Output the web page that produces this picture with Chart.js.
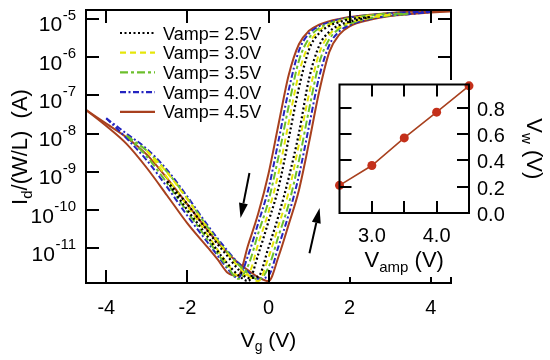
<!DOCTYPE html>
<html>
<head>
<meta charset="utf-8">
<script src="https://cdn.jsdelivr.net/npm/chart.js@4.4.1/dist/chart.umd.min.js"></script>
<style>
  html, body { margin: 0; padding: 0; background: #fff; }
  #wrap { position: relative; width: 550px; height: 360px; }
  #main { position: absolute; left: 0; top: 0; }
  #inset { position: absolute; left: 335px; top: 80px; background: #fff; }
</style>
</head>
<body>
<div id="wrap">
  <canvas id="main" width="550" height="360"></canvas>
  <canvas id="inset" width="215" height="197"></canvas>
</div>
<script>
// Gate voltage grid (V) shared by all sweeps
const vg = [-4.5, -4, -3.5, -3, -2.5, -2, -1.5, -1.25, -1, -0.75, -0.5, -0.25, 0,
            0.25, 0.5, 0.75, 1, 1.25, 1.5, 1.75, 2, 2.5, 3, 3.5, 4, 4.5];

// log10 of Id/(W/L) in A. null = outside the sweep range
const N = null;
const up25   = [N, N, N, N, -9.25, -9.85, -10.55, -10.9, -11.22, -11.55, -11.78, -11.74, -10.98, -10.14, -9.15, -7.99, -6.56, -5.7, -5.33, -5.16, -5.07, -4.95, N, N, N, N];
const down25 = [N, N, N, N, -9.25, -10.0, -10.7, -11.08, -11.42, -11.7, -11.86, -11.15, -10.3, -9.4, -8.12, -6.8, -5.8, -5.37, -5.18, -5.08, -5.01, -4.95, N, N, N, N];
const up30   = [N, N, N, -8.45, -9.02, -9.72, -10.48, -10.83, -11.16, -11.48, -11.72, -11.86, -11.24, -10.4, -9.52, -8.28, -6.96, -5.9, -5.41, -5.2, -5.09, -4.97, -4.89, N, N, N];
const down30 = [N, N, N, -8.45, -9.15, -9.9, -10.65, -11.05, -11.42, -11.72, -11.67, -10.87, -10.05, -9.02, -7.7, -6.42, -5.65, -5.3, -5.15, -5.06, -5.0, -4.91, -4.89, N, N, N];
const up35   = [N, N, -8.05, -8.45, -9.0, -9.7, -10.45, -10.8, -11.12, -11.42, -11.66, -11.82, -11.5, -10.67, -9.84, -8.71, -7.37, -6.15, -5.53, -5.25, -5.12, -4.98, -4.91, -4.86, N, N];
const down35 = [N, N, -8.05, -8.6, -9.3, -10.05, -10.78, -11.15, -11.5, -11.8, -11.45, -10.6, -9.76, -8.59, -7.27, -6.09, -5.5, -5.24, -5.12, -5.03, -4.98, -4.9, -4.86, -4.86, N, N];
const up40   = [N, -7.6, -8.0, -8.4, -8.95, -9.65, -10.4, -10.75, -11.08, -11.38, -11.62, -11.8, -11.72, -10.94, -10.11, -9.1, -7.8, -6.51, -5.68, -5.32, -5.16, -5.0, -4.91, -4.87, -4.82, N];
const down40 = [N, -7.6, -8.12, -8.7, -9.4, -10.15, -10.85, -11.2, -11.55, -11.78, -11.18, -10.33, -9.44, -8.17, -6.85, -5.83, -5.38, -5.19, -5.08, -5.01, -4.96, -4.9, -4.85, -4.82, -4.82, N];
const up45   = [-7.38, -7.74, -8.1, -8.55, -9.17, -9.85, -10.53, -10.85, -11.13, -11.38, -11.58, -11.76, -11.86, -11.21, -10.37, -9.48, -8.23, -6.9, -5.86, -5.4, -5.19, -5.02, -4.92, -4.87, -4.83, -4.8];
const down45 = [-7.38, -7.8, -8.27, -8.9, -9.62, -10.35, -10.98, -11.3, -11.65, -11.72, -10.91, -10.08, -9.05, -7.74, -6.46, -5.66, -5.31, -5.15, -5.06, -5.0, -4.95, -4.89, -4.84, -4.81, -4.79, -4.8];

const seriesNames = ['Vamp= 2.5V', 'Vamp= 3.0V', 'Vamp= 3.5V', 'Vamp= 4.0V', 'Vamp= 4.5V'];
const upSweeps = [up25, up30, up35, up40, up45];
const downSweeps = [down25, down30, down35, down40, down45];

// axis ticks
const xTicks = [-4, -2, 0, 2, 4];
const yTickExp = [-5, -6, -7, -8, -9, -10, -11];

// inset: memory window vs sweep amplitude
const vamp = [2.5, 3.0, 3.5, 4.0, 4.5];
const vw = [0.21, 0.36, 0.57, 0.765, 0.965];
const insetXTicks = [3.0, 3.5, 4.0];
const insetXLabels = [3.0, 4.0];
const insetYTicks = [0.0, 0.2, 0.4, 0.6, 0.8];

// sweep direction arrows, [Vg, log10 Id]
const arrows = [
  { from: [-0.47, -9.03], to: [-0.69, -10.21] },
  { from: [1.01, -11.13], to: [1.26, -9.95] }
];

// styles
const colors = ['#000000', '#e6e60a', '#6cbf2c', '#2424c0', '#a8401e'];
const dashes = [[2, 2.5], [6, 4], [8, 3, 3, 3], [6, 2.5, 2, 2.5], []];
const FONT = '"Liberation Sans", Arial, Helvetica, sans-serif';
const TICK = 13;

function pts(arr) {
  const out = [];
  vg.forEach((v, i) => { if (arr[i] !== null) out.push({ x: v, y: Math.pow(10, arr[i]) }); });
  return out;
}

function drawParts(ctx, parts, x, y, align) {
  let w = 0;
  parts.forEach(p => { ctx.font = p.size + 'px ' + FONT; p.w = ctx.measureText(p.t).width; w += p.w; });
  let cx = align === 'center' ? x - w / 2 : (align === 'right' ? x - w : x);
  ctx.textAlign = 'left';
  ctx.textBaseline = 'alphabetic';
  parts.forEach(p => {
    ctx.font = p.size + 'px ' + FONT;
    ctx.fillText(p.t, cx, y + (p.dy || 0));
    cx += p.w;
  });
}

function arrow(ctx, x1, y1, x2, y2) {
  const ang = Math.atan2(y2 - y1, x2 - x1);
  const L = 15, H = 4.5;
  const bx = x2 - L * Math.cos(ang), by = y2 - L * Math.sin(ang);
  ctx.beginPath();
  ctx.moveTo(x1, y1);
  ctx.lineTo(bx, by);
  ctx.stroke();
  ctx.beginPath();
  ctx.moveTo(x2, y2);
  ctx.lineTo(bx + H * Math.sin(ang), by - H * Math.cos(ang));
  ctx.lineTo(bx - H * Math.sin(ang), by + H * Math.cos(ang));
  ctx.closePath();
  ctx.fill();
}

const mainAxes = {
  id: 'mainAxes',
  afterDatasetsDraw(chart) {
    const { ctx, chartArea: a } = chart;
    const x = chart.scales.x, y = chart.scales.y;
    ctx.save();
    ctx.strokeStyle = '#000';
    ctx.fillStyle = '#000';
    ctx.lineWidth = 2;
    ctx.setLineDash([]);
    ctx.strokeRect(a.left, a.top, a.right - a.left, a.bottom - a.top);

    ctx.beginPath();
    xTicks.forEach(v => {
      const px = Math.round(x.getPixelForValue(v));
      ctx.moveTo(px, a.bottom); ctx.lineTo(px, a.bottom - TICK);
      ctx.moveTo(px, a.top); ctx.lineTo(px, a.top + TICK);
    });
    yTickExp.forEach(e => {
      const py = Math.round(y.getPixelForValue(Math.pow(10, e)));
      ctx.moveTo(a.left, py); ctx.lineTo(a.left + TICK, py);
      ctx.moveTo(a.right, py); ctx.lineTo(a.right - TICK, py);
    });
    ctx.stroke();

    // tick labels
    ctx.font = '20px ' + FONT;
    ctx.textAlign = 'center';
    ctx.textBaseline = 'alphabetic';
    xTicks.forEach(v => ctx.fillText(String(v), x.getPixelForValue(v), a.bottom + 31));

    yTickExp.forEach(e => {
      const py = y.getPixelForValue(Math.pow(10, e));
      ctx.textAlign = 'right';
      ctx.font = '15px ' + FONT;
      const sup = String(e);
      const sw = ctx.measureText(sup).width;
      ctx.fillText(sup, a.left - 10, py + 1);
      ctx.font = '21px ' + FONT;
      ctx.fillText('10', a.left - 10 - sw - 0.5, py + 12.5);
    });

    // axis titles
    drawParts(ctx, [
      { t: 'V', size: 21 }, { t: 'g', size: 14, dy: 4 }, { t: ' (V)', size: 21 }
    ], (a.left + a.right) / 2, a.bottom + 64, 'center');

    ctx.save();
    ctx.translate(27, 147);
    ctx.rotate(-Math.PI / 2);
    drawParts(ctx, [
      { t: 'I', size: 22 }, { t: 'd', size: 15, dy: 5 }, { t: '/(W/L)  (A)', size: 22 }
    ], 0, 0, 'center');
    ctx.restore();

    // legend
    seriesNames.forEach((name, i) => {
      const ry = 33 + i * 19.7;
      ctx.strokeStyle = colors[i];
      ctx.lineWidth = 2.2;
      ctx.setLineDash(dashes[i]);
      ctx.beginPath();
      ctx.moveTo(120, ry); ctx.lineTo(155, ry);
      ctx.stroke();
      ctx.setLineDash([]);
      ctx.fillStyle = '#000';
      ctx.font = '18px ' + FONT;
      ctx.textAlign = 'left';
      ctx.fillText(name, 163, ry + 6.5);
    });

    // arrows
    ctx.strokeStyle = '#000';
    ctx.fillStyle = '#000';
    ctx.lineWidth = 2;
    arrows.forEach(ar => {
      arrow(ctx,
        x.getPixelForValue(ar.from[0]), y.getPixelForValue(Math.pow(10, ar.from[1])),
        x.getPixelForValue(ar.to[0]), y.getPixelForValue(Math.pow(10, ar.to[1])));
    });
    ctx.restore();
  }
};

const datasets = [];
seriesNames.forEach((name, i) => {
  [upSweeps[i], downSweeps[i]].forEach(arr => {
    datasets.push({
      label: name,
      data: pts(arr),
      borderColor: colors[i],
      borderWidth: i === 0 ? 2.2 : 2,
      borderDash: dashes[i],
      pointRadius: 0,
      fill: false,
      cubicInterpolationMode: 'monotone'
    });
  });
});

new Chart(document.getElementById('main'), {
  type: 'line',
  data: { datasets },
  options: {
    responsive: false,
    animation: false,
    devicePixelRatio: 1,
    layout: { padding: { left: 86, top: 10, right: 99, bottom: 77 } },
    plugins: { legend: { display: false }, tooltip: { enabled: false } },
    scales: {
      x: { type: 'linear', min: -4.5, max: 4.5, display: false },
      y: { type: 'logarithmic', min: 1.23e-12, max: 1.72e-5, display: false }
    }
  },
  plugins: [mainAxes]
});

const insetAxes = {
  id: 'insetAxes',
  afterDatasetsDraw(chart) {
    const { ctx, chartArea: a } = chart;
    const x = chart.scales.x, y = chart.scales.y;
    ctx.save();
    ctx.strokeStyle = '#000';
    ctx.fillStyle = '#000';
    ctx.lineWidth = 2;
    ctx.strokeRect(a.left, a.top, a.right - a.left, a.bottom - a.top);
    ctx.beginPath();
    insetXTicks.forEach(v => {
      const px = Math.round(x.getPixelForValue(v));
      ctx.moveTo(px, a.bottom); ctx.lineTo(px, a.bottom - 12);
      ctx.moveTo(px, a.top); ctx.lineTo(px, a.top + 12);
    });
    insetYTicks.forEach(v => {
      if (v === 0) return;
      const py = Math.round(y.getPixelForValue(v));
      ctx.moveTo(a.left, py); ctx.lineTo(a.left + 12, py);
      ctx.moveTo(a.right, py); ctx.lineTo(a.right - 12, py);
    });
    ctx.stroke();

    ctx.font = '20px ' + FONT;
    ctx.textBaseline = 'alphabetic';
    ctx.textAlign = 'center';
    insetXLabels.forEach(v => ctx.fillText(v.toFixed(1), x.getPixelForValue(v), a.bottom + 29));
    ctx.textAlign = 'left';
    insetYTicks.forEach(v => ctx.fillText(v.toFixed(1), a.right + 8, y.getPixelForValue(v) + 8));

    drawParts(ctx, [
      { t: 'V', size: 22 }, { t: 'amp', size: 15, dy: 5 }, { t: ' (V)', size: 22 }
    ], (a.left + a.right) / 2, a.bottom + 54, 'center');

    ctx.save();
    ctx.translate(a.right + 58, (a.top + a.bottom) / 2);
    ctx.rotate(Math.PI / 2);
    drawParts(ctx, [
      { t: 'V', size: 22 }, { t: 'w', size: 15, dy: 5 }, { t: ' (V)', size: 22 }
    ], 0, 0, 'center');
    ctx.restore();
    ctx.restore();
  }
};

new Chart(document.getElementById('inset'), {
  type: 'line',
  data: {
    datasets: [{
      data: vamp.map((v, i) => ({ x: v, y: vw[i] })),
      borderColor: '#a8401e',
      borderWidth: 1.6,
      pointRadius: 4.5,
      pointBackgroundColor: '#c4301a',
      pointBorderWidth: 0,
      clip: false
    }]
  },
  options: {
    responsive: false,
    animation: false,
    devicePixelRatio: 1,
    layout: { padding: { left: 4, top: 3, right: 81, bottom: 64 } },
    plugins: { legend: { display: false }, tooltip: { enabled: false } },
    scales: {
      x: { type: 'linear', min: 2.5, max: 4.5, display: false },
      y: { type: 'linear', min: 0, max: 0.975, display: false }
    }
  },
  plugins: [insetAxes]
});
</script>
</body>
</html>
